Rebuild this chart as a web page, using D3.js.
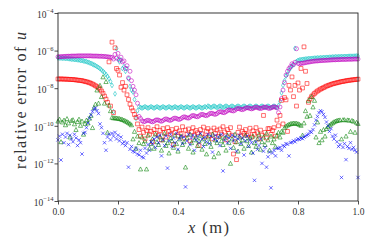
<!DOCTYPE html>
<html><head><meta charset="utf-8">
<script src="https://cdn.jsdelivr.net/npm/d3@7"></script>
<style>body{margin:0;background:#fff}svg{display:block}</style>
</head><body>
<script>
// mesh nodes: 201 equally spaced nodes on [0, 1] m
const nodeCount = 201;
const xTicks = [0, 0.2, 0.4, 0.6, 0.8, 1.0];
const xTickLabels = ["0.0", "0.2", "0.4", "0.6", "0.8", "1.0"];
const yTickExps = [-14, -12, -10, -8, -6, -4];
// log10 of relative error, one value per node
const magentaExp = [
-6.33,-6.33,-6.32,-6.32,-6.31,-6.31,-6.30,-6.30,-6.30,-6.29,
-6.29,-6.29,-6.29,-6.28,-6.28,-6.28,-6.28,-6.28,-6.28,-6.28,
-6.28,-6.28,-6.28,-6.29,-6.29,-6.29,-6.29,-6.30,-6.30,-6.30,
-6.31,-6.31,-6.32,-6.33,-6.34,-6.35,-6.37,-6.45,-6.20,-6.40,
-6.15,-6.50,-6.35,-6.60,-6.55,-6.95,-6.80,-7.45,-7.10,-7.60,
-7.90,-8.10,-8.35,-8.80,-9.50,-9.61,-9.73,-9.78,-9.77,-9.72,
-9.70,-9.73,-9.77,-9.79,-9.76,-9.70,-9.68,-9.70,-9.74,-9.76,
-9.72,-9.66,-9.63,-9.66,-9.70,-9.71,-9.67,-9.61,-9.59,-9.61,
-9.65,-9.66,-9.62,-9.56,-9.52,-9.54,-9.58,-9.59,-9.55,-9.48,
-9.45,-9.47,-9.51,-9.52,-9.48,-9.42,-9.39,-9.41,-9.45,-9.46,
-9.42,-9.36,-9.33,-9.34,-9.38,-9.39,-9.35,-9.28,-9.25,-9.26,
-9.30,-9.30,-9.25,-9.19,-9.15,-9.17,-9.20,-9.21,-9.17,-9.10,
-9.08,-9.09,-9.13,-9.14,-9.11,-9.06,-9.04,-9.05,-9.08,-9.10,
-9.08,-9.03,-9.01,-9.03,-9.07,-9.08,-9.06,-9.02,-9.00,-9.02,
-9.06,-9.08,-9.05,-9.01,-8.99,-9.01,-9.05,-9.30,-9.00,-8.55,
-8.10,-7.70,-7.30,-7.10,-6.95,-6.85,-6.70,-6.75,-6.62,-5.90,
-6.68,-6.70,-6.68,-6.67,-6.66,-6.64,-6.62,-6.61,-6.60,-6.58,
-6.57,-6.56,-6.55,-6.55,-6.54,-6.53,-6.53,-6.52,-6.52,-6.51,
-6.51,-6.50,-6.50,-6.49,-6.49,-6.49,-6.48,-6.48,-6.48,-6.47,
-6.47,-6.47,-6.47,-6.46,-6.46,-6.46,-6.46,-6.45,-6.45,-6.45,
-6.45];
const cyanExp = [
-6.39,-6.39,-6.40,-6.40,-6.41,-6.41,-6.42,-6.43,-6.44,-6.45,
-6.46,-6.47,-6.48,-6.49,-6.50,-6.52,-6.53,-6.55,-6.57,-6.59,
-6.62,-6.65,-6.68,-6.72,-6.76,-6.80,-6.85,-6.90,-6.96,-7.03,
-7.10,-7.18,-7.27,-7.37,-7.50,-7.65,-7.85,-9.25,-8.30,-5.90,
-6.45,-6.60,-6.50,-6.95,-6.85,-7.10,-6.95,-7.50,-7.90,-8.10,
-8.20,-8.60,-9.60,-9.20,-8.98,-9.02,-9.06,-9.02,-8.98,-9.02,
-9.06,-9.02,-8.98,-9.02,-9.06,-9.02,-8.98,-9.02,-9.06,-9.02,
-8.98,-9.02,-9.06,-9.02,-8.98,-9.02,-9.06,-9.02,-8.98,-9.02,
-9.06,-9.02,-8.98,-9.02,-9.06,-9.02,-8.98,-9.02,-9.06,-9.02,
-8.98,-9.02,-9.06,-9.02,-8.98,-9.02,-9.06,-9.02,-8.98,-9.02,
-8.95,-8.99,-9.03,-8.99,-8.95,-8.99,-9.03,-8.99,-8.95,-8.99,
-9.03,-8.99,-8.95,-8.99,-9.03,-8.99,-8.95,-8.99,-9.03,-8.99,
-8.95,-8.99,-9.03,-8.99,-8.95,-8.99,-9.03,-8.99,-8.95,-8.99,
-9.03,-8.99,-8.95,-8.99,-9.03,-8.99,-8.95,-8.99,-9.03,-8.99,
-8.95,-8.99,-9.03,-8.99,-8.95,-8.99,-9.03,-8.92,-8.70,-8.25,
-7.85,-7.60,-7.35,-7.25,-7.05,-6.92,-6.82,-6.75,-5.88,-6.58,
-6.52,-6.50,-6.48,-6.47,-6.46,-6.45,-6.44,-6.43,-6.42,-6.42,
-6.41,-6.40,-6.40,-6.39,-6.39,-6.38,-6.38,-6.37,-6.37,-6.36,
-6.36,-6.35,-6.35,-6.34,-6.34,-6.33,-6.33,-6.33,-6.32,-6.32,
-6.32,-6.31,-6.31,-6.31,-6.30,-6.30,-6.30,-6.30,-6.29,-6.29,
-6.29];
const redExp = [
-7.51,-7.51,-7.51,-7.51,-7.52,-7.52,-7.52,-7.53,-7.53,-7.54,
-7.54,-7.55,-7.56,-7.57,-7.58,-7.59,-7.60,-7.62,-7.64,-7.66,
-7.68,-7.71,-7.74,-7.78,-7.82,-7.87,-7.92,-7.98,-8.05,-8.15,
-8.27,-8.42,-8.58,-8.75,-6.60,-8.95,-5.55,-9.30,-5.85,-6.95,
-7.05,-7.30,-7.95,-7.70,-8.10,-7.90,-8.35,-8.60,-8.85,-9.05,
-9.20,-9.40,-9.55,-9.90,-10.20,-10.55,-10.07,-10.35,-10.70,-10.25,
-10.10,-10.45,-10.30,-10.85,-10.20,-10.40,-10.05,-10.50,-10.25,-10.75,
-10.15,-10.35,-10.60,-10.10,-10.30,-10.45,-10.20,-11.00,-10.35,-10.13,
-10.55,-10.27,-10.40,-10.05,-10.65,-10.23,-10.45,-10.17,-10.80,-10.33,
-10.10,-10.50,-10.25,-10.37,-11.05,-10.20,-10.43,-10.07,-10.60,-10.30,
-10.15,-10.53,-10.27,-10.70,-10.12,-10.40,-10.23,-10.57,-10.17,-10.45,
-10.05,-10.33,-10.75,-10.20,-10.40,-10.10,-10.50,-11.50,-10.85,-11.80,
-10.35,-10.07,-10.55,-10.30,-10.40,-10.20,-10.50,-10.43,-10.13,-10.60,
-10.27,-10.45,-10.10,-10.37,-10.70,-10.23,-10.50,-9.45,-10.35,-10.65,
-10.15,-10.15,-10.45,-10.25,-10.10,-10.55,-9.70,-10.00,-9.45,-8.65,
-9.90,-8.50,-8.62,-10.30,-7.85,-8.10,-7.40,-8.45,-7.85,-8.95,
-7.72,-8.10,-6.95,-7.99,-5.80,-7.10,-7.75,-8.75,-8.58,-8.45,
-8.36,-8.28,-8.21,-8.15,-8.10,-8.05,-8.01,-7.97,-7.93,-7.89,
-7.86,-7.83,-7.80,-7.77,-7.75,-7.73,-7.71,-7.69,-7.67,-7.65,
-7.64,-7.62,-7.61,-7.59,-7.58,-7.57,-7.56,-7.55,-7.54,-7.53,
-7.52];
const greenExp = [
-9.75,-9.65,-10.85,-9.80,-9.70,-9.95,-9.62,-9.85,-10.60,-9.72,
-9.68,-9.90,-10.20,-9.78,-9.65,-9.98,-9.75,-10.45,-9.88,-9.70,
-9.85,-9.60,-9.45,-10.10,-9.05,-8.85,-8.10,-8.80,-7.85,-8.45,
-7.40,-8.80,-7.65,-10.35,-8.90,-9.20,-9.55,-9.58,-9.58,-9.59,
-9.60,-9.62,-9.64,-9.67,-9.70,-9.74,-9.78,-9.83,-9.89,-9.95,
-10.70,-10.30,-11.20,-10.55,-10.90,-12.30,-10.60,-10.95,-10.80,-12.30,
-10.50,-11.20,-10.95,-10.70,-11.20,-10.45,-10.85,-11.00,-10.60,-11.30,
-10.75,-10.40,-11.05,-10.90,-11.45,-10.65,-10.80,-11.15,-10.50,-10.95,
-11.35,-10.70,-10.55,-11.00,-10.85,-12.20,-10.65,-11.20,-10.45,-10.90,
-11.40,-10.75,-10.60,-11.05,-10.80,-10.50,-11.25,-10.70,-10.95,-11.50,
-10.60,-10.85,-11.10,-10.45,-11.65,-10.75,-10.90,-11.45,-10.55,-10.80,
-11.00,-10.65,-11.30,-10.50,-10.90,-12.00,-10.70,-11.15,-10.45,-10.85,
-11.35,-10.60,-10.95,-10.75,-11.20,-10.50,-10.80,-11.05,-10.65,-11.40,
-10.55,-10.90,-11.10,-10.70,-10.45,-11.25,-10.85,-10.60,-11.00,-10.40,
-10.75,-11.30,-10.55,-10.90,-10.70,-11.10,-10.50,-10.35,-10.60,-10.30,
-10.35,-10.10,-10.02,-9.96,-9.92,-9.89,-9.87,-9.86,-9.86,-9.87,
-9.89,-9.93,-9.98,-10.50,-9.85,-9.20,-9.50,-8.65,-9.45,-8.45,
-9.00,-8.65,-10.60,-9.80,-10.90,-10.30,-10.75,-10.20,-10.55,-10.15,
-10.05,-9.97,-9.90,-9.84,-9.79,-9.75,-9.72,-9.70,-9.69,-10.70,
-9.68,-9.68,-10.55,-9.69,-9.70,-10.30,-9.72,-9.76,-10.35,-9.82,
-9.88];
const blueExp = [
-10.75,-10.55,-11.82,-10.45,-10.90,-10.60,-10.40,-11.00,-10.50,-10.70,
-10.85,-10.45,-10.65,-11.05,-10.75,-10.90,-11.50,-10.40,-10.35,-10.10,
-9.85,-9.60,-9.42,-9.25,-9.10,-9.05,-9.20,-9.35,-9.90,-10.10,
-10.40,-10.90,-11.30,-10.60,-10.45,-10.75,-10.40,-10.55,-10.35,-10.70,
-10.50,-10.80,-10.60,-10.95,-10.85,-11.05,-10.90,-12.20,-11.25,-11.10,
-11.35,-11.40,-11.20,-11.50,-11.55,-11.30,-11.65,-11.70,-11.20,-11.45,
-11.00,-11.30,-10.85,-10.95,-10.70,-11.15,-10.60,-10.90,-10.50,-11.60,
-10.75,-11.05,-10.55,-12.25,-10.80,-10.45,-11.10,-10.65,-10.90,-10.40,
-11.25,-10.70,-10.55,-10.95,-10.60,-13.25,-10.80,-10.45,-11.00,-10.65,
-10.50,-11.30,-10.75,-10.55,-10.90,-10.40,-10.70,-11.10,-10.60,-10.85,
-10.45,-10.95,-10.55,-11.40,-10.70,-10.50,-10.80,-10.60,-11.05,-10.45,
-12.40,-10.75,-10.55,-10.90,-10.65,-11.20,-10.50,-10.80,-10.60,-11.35,
-10.70,-10.50,-10.95,-10.65,-11.55,-10.80,-10.55,-11.10,-10.75,-10.90,
-11.45,-12.90,-10.85,-11.25,-11.05,-10.70,-12.00,-11.35,-11.15,-12.20,
-11.65,-11.40,-13.30,-11.45,-11.30,-11.60,-11.20,-11.20,-11.15,-11.30,
-11.05,-11.10,-10.95,-10.98,-11.60,-10.90,-10.88,-10.80,-10.85,-10.75,
-10.70,-10.72,-10.65,-10.68,-10.60,-10.55,-10.50,-10.45,-10.30,-10.35,
-10.20,-9.95,-9.70,-9.50,-9.30,-9.20,-9.25,-9.40,-9.55,-9.80,
-10.00,-10.30,-10.15,-10.55,-10.70,-10.50,-10.85,-11.10,-11.00,-12.75,
-11.15,-10.95,-11.80,-11.10,-11.20,-10.90,-11.25,-11.15,-11.30,-11.40,
-12.75];

const W = 374, H = 249;
const M = {left: 58, right: 358, top: 13, bottom: 201};
const FONT = "'Liberation Serif','DejaVu Serif',serif";

const svg = d3.select("body").append("svg").attr("width", W).attr("height", H);
const x = d3.scaleLinear().domain([0, 1]).range([M.left, M.right]);
const y = d3.scaleLog().domain([1e-14, 1e-4]).range([M.bottom, M.top]);
const xNodes = d3.range(nodeCount).map(i => i / (nodeCount - 1));

const shapes = {
  circle: "M2,0A2,2 0 1,1 -2,0A2,2 0 1,1 2,0Z",
  square: "M-1.9,-1.9H1.9V1.9H-1.9Z",
  triangle: "M0,-2.1L2.1,1.9L-2.1,1.9Z",
  cross: "M-1.7,-1.7L1.7,1.7M-1.7,1.7L1.7,-1.7",
  thinDiamond: "M0,-2.4L1.45,0L0,2.4L-1.45,0Z"
};
const series = [
  {vals: cyanExp, color: "#00bfbf", shape: "thinDiamond"},
  {vals: magentaExp, color: "#bf00bf", shape: "circle"},
  {vals: redExp, color: "#ff0000", shape: "square"},
  {vals: greenExp, color: "#008000", shape: "triangle"},
  {vals: blueExp, color: "#0000ff", shape: "cross"}
];

const plot = svg.append("g");
series.forEach(s => {
  plot.append("g").selectAll("path").data(s.vals).join("path")
    .attr("d", shapes[s.shape])
    .attr("transform", (v, i) => `translate(${x(xNodes[i])},${y(Math.pow(10, v))})`)
    .attr("fill", "none").attr("stroke", s.color)
    .attr("stroke-width", 0.75).attr("stroke-opacity", 0.75);
});

// frame
svg.append("rect").attr("x", M.left).attr("y", M.top)
  .attr("width", M.right - M.left).attr("height", M.bottom - M.top)
  .attr("fill", "none").attr("stroke", "#222").attr("stroke-width", 0.9);

// x axis
const xAxis = svg.append("g").attr("transform", `translate(0,${M.bottom})`)
  .call(d3.axisBottom(x).tickValues(xTicks).tickSize(3.5)
    .tickFormat((d, i) => xTickLabels[i]));
xAxis.select(".domain").remove();
xAxis.selectAll("line").attr("stroke", "#222").attr("stroke-width", 0.8);
xAxis.selectAll("text").attr("font-family", FONT).attr("font-size", 9.5)
  .attr("fill", "#333").attr("dy", null).attr("y", 14);

// y axis
const yAxis = svg.append("g").attr("transform", `translate(${M.left},0)`)
  .call(d3.axisLeft(y).tickValues(yTickExps.map(e => Math.pow(10, e))).tickSize(3.5)
    .tickFormat(() => ""));
yAxis.select(".domain").remove();
yAxis.selectAll("line").attr("stroke", "#222").attr("stroke-width", 0.8);
yAxis.selectAll(".tick").each(function(d, i) {
  const t = d3.select(this).append("text")
    .attr("x", -4.5).attr("y", 4.2).attr("text-anchor", "end")
    .attr("font-family", FONT).attr("font-size", 9.5).attr("fill", "#333");
  t.append("tspan").text("10");
  t.append("tspan").attr("dy", -4.8).attr("font-size", 6.5).text("\u2212" + Math.abs(yTickExps[i]));
});

// axis labels
const xl = svg.append("text").attr("x", 208.5).attr("y", 233).attr("text-anchor", "middle")
  .attr("font-family", FONT).attr("font-size", 16.5).attr("fill", "#333")
  .attr("textLength", 41).attr("lengthAdjust", "spacing");
xl.append("tspan").attr("font-style", "italic").text("x");
xl.append("tspan").text(" (m)");

const yl = svg.append("text").attr("transform", "translate(25.5,100.5) rotate(-90)")
  .attr("text-anchor", "middle").attr("font-family", FONT).attr("font-size", 16).attr("fill", "#333")
  .attr("textLength", 137).attr("lengthAdjust", "spacing");
yl.append("tspan").text("relative error of ");
yl.append("tspan").attr("font-style", "italic").text("u");
</script>
</body></html>
